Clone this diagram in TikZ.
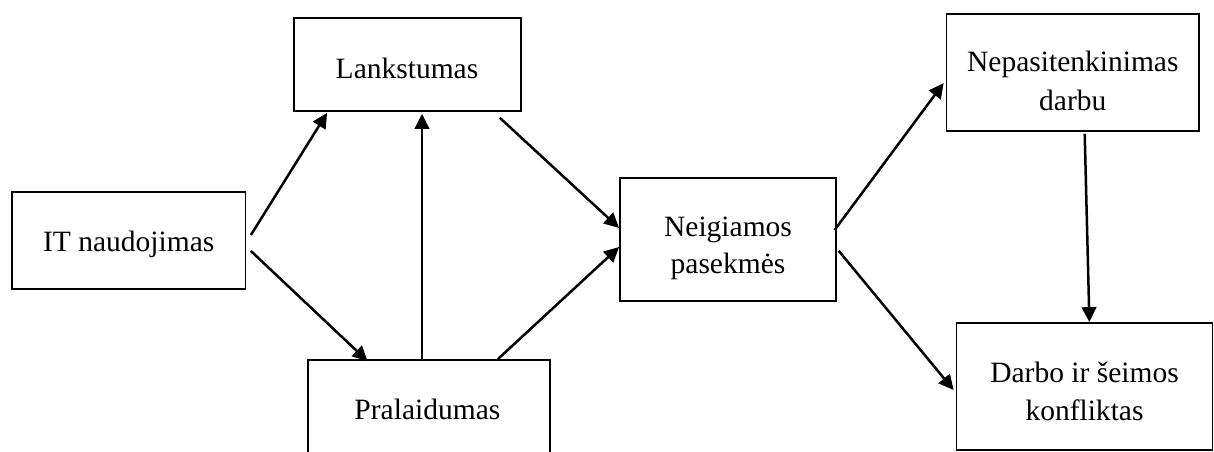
\documentclass[tikz,border=0pt]{standalone}
\usepackage{fontspec}
\setmainfont{Liberation Serif}
\usetikzlibrary{arrows.meta,calc}
\begin{document}
\begin{tikzpicture}[x=1pt,y=-1pt,
  box/.style={draw=black,line width=1.8pt,minimum width=#1,inner sep=0pt},
  lbl/.style={anchor=base,inner sep=0pt,font=\fontsize{29.5}{35}\selectfont},
  arr/.style={line width=2.5pt,-{Triangle[length=15pt,width=14.5pt]}}]
\useasboundingbox (0,0) rectangle (1214,451);
\clip (0,0) rectangle (1214,451);
% boxes
\node[box=233.5pt,minimum height=97pt]  (it)    at (128.75,240.5) {};
\node[box=227pt,minimum height=92.4pt]  (lank)  at (407.5,64.5) {};
\node[box=241.6pt,minimum height=120pt] (pral)  at (428.8,420) {};
\node[box=216pt,minimum height=123pt]   (neg)   at (728,239.5) {};
\node[box=252.5pt,minimum height=116.4pt] (nep) at (1072.8,72.5) {};
\node[box=256pt,minimum height=127pt]   (darbo) at (1084.5,386.5) {};
% labels
\node[lbl] (itT)    at (128.7,251.7) {IT naudojimas};
\node[lbl] (lankT)  at (407,78.3) {Lankstumas};
\node[lbl] (pralT)  at (427.4,419.3) {Pralaidumas};
\node[lbl] (negT1)  at (728,236) {Neigiamos};
\node[lbl] (negT2)  at (728,273) {pasekmės};
\node[lbl] (nepT1)  at (1072.8,71.7) {Nepasitenkinimas};
\node[lbl] (nepT2)  at (1072.8,110) {darbu};
\node[lbl] (darboT1) at (1084.5,382.7) {Darbo ir šeimos};
\node[lbl] (darboT2) at (1084.5,420.7) {konfliktas};
% connectors
\draw[arr] ($(it.east)+(4.5,-5.5)$) -- ($(lank.south west)+(34,1.3)$);
\draw[arr] ($(it.east)+(4.5,10.5)$) -- ($(pral.north west)+(60.5,2)$);
\draw[arr] ($(pral.north)+(-6.8,0)$) -- ($(lank.south)+(14.5,2.3)$);
\draw[arr] ($(lank.south east)+(-22,6.3)$) -- ($(neg.west)+(0,-11.5)$);
\draw[arr] ($(pral.north east)+(-52.6,0)$) -- ($(neg.west)+(0,7.5)$);
\draw[arr] ($(neg.east)+(-2.3,-9.5)$) -- ($(nep.west)+(-2,10.5)$);
\draw[arr] ($(neg.east)+(1.7,11.2)$) -- ($(darbo.west)+(-2,3.5)$);
\draw[arr] ($(nep.south)+(11.9,2.3)$) -- ($(darbo.north)+(4.9,0)$);
\end{tikzpicture}
\end{document}
